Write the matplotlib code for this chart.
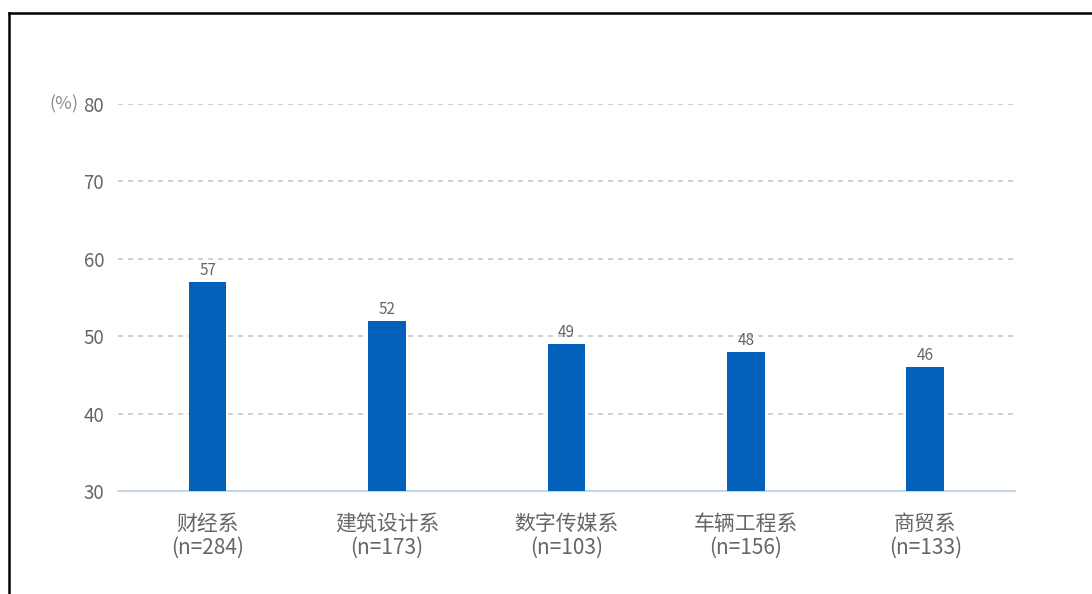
import matplotlib.pyplot as plt
from matplotlib.lines import Line2D

plt.rcParams['font.family'] = ['Noto Sans CJK SC', 'DejaVu Sans']

departments = ['财经系', '建筑设计系', '数字传媒系', '车辆工程系', '商贸系']
sample_sizes = [284, 173, 103, 156, 133]
percent = [57, 52, 49, 48, 46]
y_ticks = [30, 40, 50, 60, 70, 80]

bar_color = '#0361BC'
text_gray = '#666666'

fig = plt.figure(figsize=(10.92, 5.94), dpi=100)
ax = fig.add_axes([0.108, 0.1734, 0.8215, 0.6515])

x = range(len(departments))
ax.bar(x, percent, width=0.21, color=bar_color, zorder=3)

for xi, v in zip(x, percent):
    ax.text(xi, v + 0.4, str(v), ha='center', va='bottom', fontsize=11, color=text_gray)

ax.set_xlim(-0.5, len(departments) - 0.5)
ax.set_ylim(30, 80)
ax.set_yticks(y_ticks)
ax.set_xticks(list(x))
ax.set_xticklabels([f'{d}\n(n={n})' for d, n in zip(departments, sample_sizes)],
                   fontsize=15, color=text_gray, linespacing=1.1)
ax.tick_params(axis='y', labelsize=13.5, labelcolor=text_gray, length=0, pad=10)
ax.tick_params(axis='x', length=0, pad=16)

# dashed grid above the baseline
for yt in y_ticks[1:]:
    ax.axhline(yt, color='#c8c8c8', linestyle=(0, (3, 3)), linewidth=1.2, zorder=1)

for side in ['top', 'right', 'left']:
    ax.spines[side].set_visible(False)
ax.spines['bottom'].set_color('#c5d5ea')
ax.spines['bottom'].set_linewidth(1.5)

ax.text(-0.044, 1.0, '(%)', transform=ax.transAxes, ha='right', va='center',
        fontsize=13, color='#8c8c8c')

# frame lines at left and top
fig.add_artist(Line2D([0.0085, 0.0085], [0.0, 0.978], color='black', linewidth=1.8))
fig.add_artist(Line2D([0.0085, 1.0], [0.978, 0.978], color='black', linewidth=1.8))

fig.savefig('out.png', dpi=100)
